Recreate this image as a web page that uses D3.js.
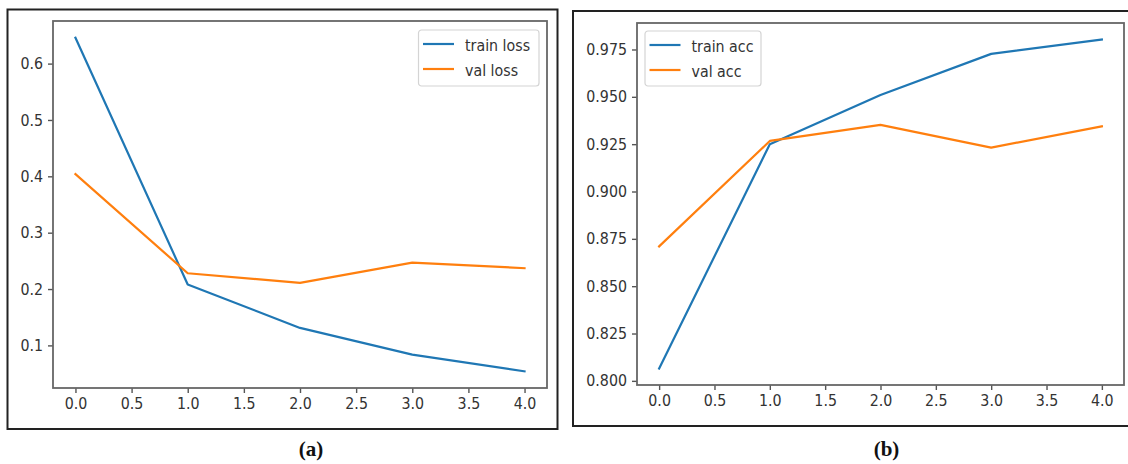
<!DOCTYPE html>
<html>
<head>
<meta charset="utf-8">
<script src="https://cdn.jsdelivr.net/npm/d3@7"></script>
<style>
  html, body { margin: 0; padding: 0; background: #fff; }
  svg { display: block; }
</style>
</head>
<body>
<svg id="fig" width="1128" height="464"></svg>
<script>
// Training history over five epochs
const epochs = [0, 1, 2, 3, 4];
const trainLoss = [0.646, 0.208, 0.131, 0.0835, 0.054];
const valLoss = [0.404, 0.228, 0.211, 0.247, 0.237];
const trainAcc = [0.8065, 0.925, 0.951, 0.9727, 0.9803];
const valAcc = [0.871, 0.9267, 0.9352, 0.9232, 0.9344];

// Tick labels
const xTicks = [0, 0.5, 1, 1.5, 2, 2.5, 3, 3.5, 4];
const lossTicks = [0.1, 0.2, 0.3, 0.4, 0.5, 0.6];
const accTicks = [0.800, 0.825, 0.850, 0.875, 0.900, 0.925, 0.950, 0.975];

const BLUE = "#1f77b4", ORANGE = "#ff7f0e";
const FONT = "'DejaVu Sans', sans-serif";
const SX = 0.89; // horizontal squeeze of the tick/legend text

const svg = d3.select("#fig");

function padded(values) {
  const [lo, hi] = d3.extent(values);
  const m = (hi - lo) * 0.05;
  return [lo - m, hi + m];
}

function squeezeText(sel) {
  sel.each(function () {
    const t = d3.select(this);
    const x = +t.attr("x") || 0;
    t.attr("x", 0).attr("transform", `translate(${x},0) scale(${SX},1)`);
  });
}

function drawPanel(p) {
  // outer frame
  svg.append("rect")
    .attr("x", p.frame[0]).attr("y", p.frame[1])
    .attr("width", p.frame[2]).attr("height", p.frame[3])
    .attr("fill", "none").attr("stroke", "#222").attr("stroke-width", 2);

  const x = d3.scaleLinear().domain([-0.2, 4.2]).range([p.left, p.right]);
  const y = d3.scaleLinear().domain(padded(p.series.flatMap(s => s.values))).range([p.bottom, p.top]);

  const g = svg.append("g");

  // y axis
  const ya = g.append("g").attr("transform", `translate(${p.left},0)`)
    .call(d3.axisLeft(y).tickValues(p.yTicks).tickFormat(d3.format(p.yFmt)).tickSize(5).tickPadding(5));
  // x axis
  const xa = g.append("g").attr("transform", `translate(0,${p.bottom})`)
    .call(d3.axisBottom(x).tickValues(xTicks).tickFormat(d3.format(".1f")).tickSize(5).tickPadding(5));

  [ya, xa].forEach(a => {
    a.select(".domain").remove();
    a.selectAll(".tick line").attr("stroke", "#555").attr("stroke-width", 1.4);
    a.selectAll(".tick text").attr("fill", "#333").style("font-family", FONT).style("font-size", "16px").call(squeezeText);
  });

  // series lines
  const line = d3.line().x((d, i) => x(epochs[i])).y(d => y(d));
  p.series.forEach(s => {
    g.append("path").datum(s.values)
      .attr("d", line).attr("fill", "none")
      .attr("stroke", s.color).attr("stroke-width", 2.2)
      .attr("stroke-linejoin", "round").attr("stroke-linecap", "square");
  });

  // axes box
  g.append("rect")
    .attr("x", p.left).attr("y", p.top)
    .attr("width", p.right - p.left).attr("height", p.bottom - p.top)
    .attr("fill", "none").attr("stroke", "#666").attr("stroke-width", 1.8);

  // legend
  const L = p.legend;
  const lg = g.append("g").attr("transform", `translate(${L.x},${L.y})`);
  lg.append("rect").attr("width", L.w).attr("height", L.h).attr("rx", 3)
    .attr("fill", "#fff").attr("fill-opacity", 0.8)
    .attr("stroke", "#d4d4d4").attr("stroke-width", 1.2);
  p.series.forEach((s, i) => {
    const cy = 14 + i * 25;
    lg.append("line").attr("x1", 4.5).attr("x2", 35.5).attr("y1", cy).attr("y2", cy)
      .attr("stroke", s.color).attr("stroke-width", 2.2);
    lg.append("text").attr("x", 46.5).attr("y", cy + 7.5)
      .attr("fill", "#333").style("font-family", FONT).style("font-size", "16px")
      .text(s.name).call(squeezeText);
  });

  // caption
  svg.append("text")
    .attr("x", p.caption[0]).attr("y", p.caption[1])
    .attr("text-anchor", "middle")
    .style("font-family", "'Liberation Serif', 'Times New Roman', serif")
    .style("font-weight", "bold").style("font-size", "21px")
    .attr("fill", "#111")
    .text(p.captionText);
}

drawPanel({
  frame: [7.5, 9.5, 550, 419.5],
  left: 53, right: 547, top: 21, bottom: 388,
  yTicks: lossTicks, yFmt: ".1f",
  series: [
    { name: "train loss", values: trainLoss, color: BLUE },
    { name: "val loss", values: valLoss, color: ORANGE }
  ],
  legend: { x: 418.5, y: 30, w: 120.5, h: 56 },
  caption: [311, 456], captionText: "(a)"
});

drawPanel({
  frame: [573, 11, 600, 415],
  left: 637, right: 1124, top: 23, bottom: 385,
  yTicks: accTicks, yFmt: ".3f",
  series: [
    { name: "train acc", values: trainAcc, color: BLUE },
    { name: "val acc", values: valAcc, color: ORANGE }
  ],
  legend: { x: 645, y: 31, w: 116, h: 55 },
  caption: [886.5, 456], captionText: "(b)"
});
</script>
</body>
</html>
